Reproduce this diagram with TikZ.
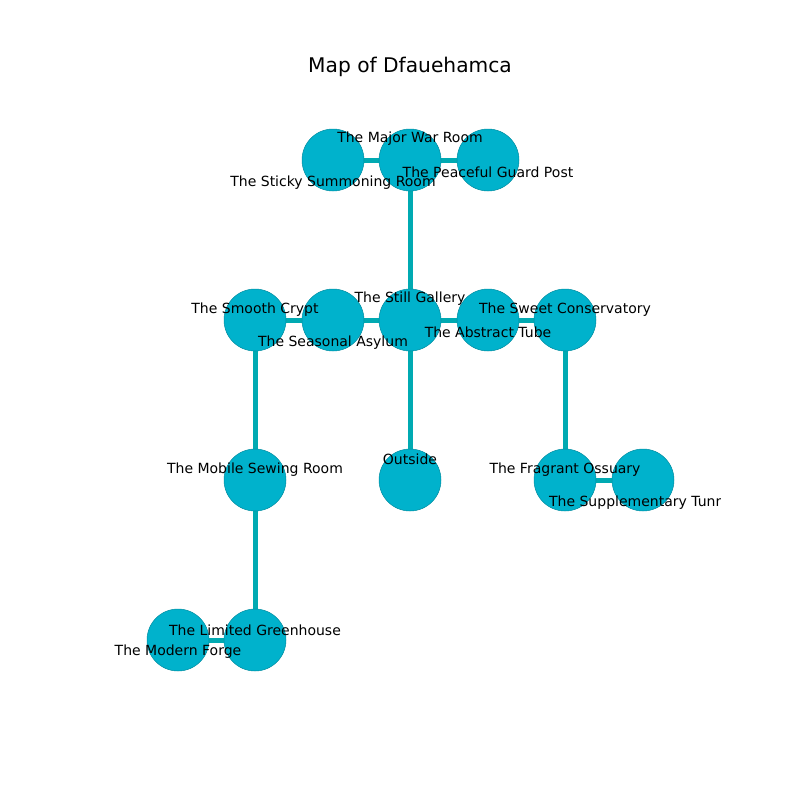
\documentclass[tikz,border=0pt]{standalone}
\usepackage{fontspec}
\setmainfont{DejaVu Sans}
\usetikzlibrary{calc}
\definecolor{roomfill}{RGB}{0,178,204}
\definecolor{roomedge}{RGB}{0,140,160}
\definecolor{pathcol}{RGB}{0,170,178}
\tikzset{
  spot/.style={circle,minimum size=62pt,inner sep=0pt},
  room/.style={spot,fill=roomfill,draw=roomedge,line width=0.5pt},
  pass/.style={draw=pathcol,line width=5pt},
  tag/.style={inner sep=0pt,font=\fontsize{14}{16}\selectfont}
}
\begin{document}
\begin{tikzpicture}[x=1pt,y=-1pt]
			\useasboundingbox (0,0) rectangle (800,800);
			\node[font=\fontsize{20.2}{23}\selectfont] (title) at (410,67) {Map of Dfauehamca};
			\begin{scope}
			\clip (80,80) rectangle (720,720);
			% rooms
			\node[spot] (sticky) at (333,160) {};
			\node[spot] (war) at (410,160) {};
			\node[spot] (guard) at (488,160) {};
			\node[spot] (crypt) at (255,320) {};
			\node[spot] (asylum) at (333,320) {};
			\node[spot] (gallery) at (410,320) {};
			\node[spot] (tube) at (488,320) {};
			\node[spot] (conserv) at (565,320) {};
			\node[spot] (sewing) at (255,480) {};
			\node[spot] (outside) at (410,480) {};
			\node[spot] (ossuary) at (565,480) {};
			\node[spot] (tunnel) at (643,480) {};
			\node[spot] (forge) at (178,640) {};
			\node[spot] (greenhouse) at (255,640) {};
			% passages
			\path[pass] (sticky) -- (war) (war) -- (guard) (war) -- (gallery)
				(crypt) -- (asylum) (asylum) -- (gallery) (gallery) -- (tube) (tube) -- (conserv)
				(gallery) -- (outside) (crypt) -- (sewing) (sewing) -- (greenhouse)
				(greenhouse) -- (forge) (conserv) -- (ossuary) (ossuary) -- (tunnel);
			\foreach \n in {sticky,war,guard,crypt,asylum,gallery,tube,conserv,sewing,outside,ossuary,tunnel,forge,greenhouse}
				\node[room] at (\n) {};
			% labels
			\node[tag] (lwar) at ($(war)+(0,-21)$) {The Major War Room};
			\node[tag] (lsticky) at ($(sticky)+(0,23)$) {The Sticky Summoning Room};
			\node[tag] (lguard) at ($(guard)+(0,12)$) {The Peaceful Guard Post};
			\node[tag] (lgallery) at ($(gallery)+(0,-21)$) {The Still Gallery};
			\node[tag] (lcrypt) at ($(crypt)+(0,-10)$) {The Smooth Crypt};
			\node[tag] (lasylum) at ($(asylum)+(0,23)$) {The Seasonal Asylum};
			\node[tag] (ltube) at ($(tube)+(0,12)$) {The Abstract Tube};
			\node[tag] (lconserv) at ($(conserv)+(0,-10)$) {The Sweet Conservatory};
			\node[tag] (lsewing) at ($(sewing)+(0,-10)$) {The Mobile Sewing Room};
			\node[tag] (loutside) at ($(outside)+(0,-21)$) {Outside};
			\node[tag] (lossuary) at ($(ossuary)+(0,-10)$) {The Fragrant Ossuary};
			\node[tag] (ltunnel) at ($(tunnel)+(0,23)$) {The Supplementary Tunnel};
			\node[tag] (lgreenhouse) at ($(greenhouse)+(0,-10)$) {The Limited Greenhouse};
			\node[tag] (lforge) at ($(forge)+(0,12)$) {The Modern Forge};
			\end{scope}
		\end{tikzpicture}
\end{document}
